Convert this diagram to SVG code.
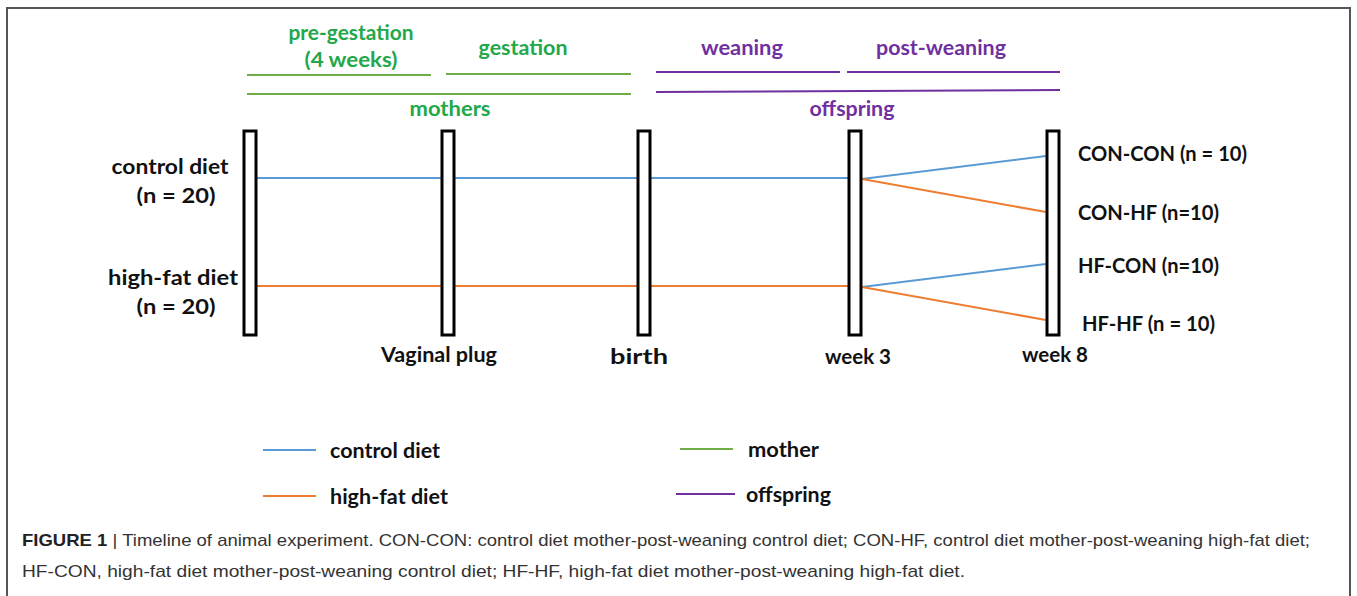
<svg xmlns="http://www.w3.org/2000/svg" width="1357" height="596" viewBox="0 0 1357 596">
<defs>
<style>
.t{font-family:Lato,"Liberation Sans",sans-serif;font-weight:bold;font-size:20px;fill:#111}
.g{fill:#22a84b}
.p{fill:#7030a0}
.bar{fill:#fff;stroke:#000;stroke-width:3}
.bl{stroke:#5b9bd5;stroke-width:2;fill:none}
.or{stroke:#ed7d31;stroke-width:2;fill:none}
.gl{stroke:#70ad47;stroke-width:2;fill:none}
.pl{stroke:#7030a0;stroke-width:2;fill:none}
.cap{font-family:"Liberation Sans",Arial,sans-serif;font-size:17px;fill:#333}
</style>
</defs>
<rect x="7" y="8" width="1343" height="610" fill="#fff" stroke="#555" stroke-width="2"/>

<g id="phases">
<text class="t g" x="351" y="40" text-anchor="middle" textLength="125" lengthAdjust="spacingAndGlyphs">pre-gestation</text>
<text class="t g" x="351" y="67" text-anchor="middle" textLength="93" lengthAdjust="spacingAndGlyphs">(4 weeks)</text>
<text class="t g" x="523" y="55" text-anchor="middle" textLength="89" lengthAdjust="spacingAndGlyphs">gestation</text>
<line class="gl" x1="247" y1="75" x2="431" y2="75"/>
<line class="gl" x1="446" y1="74" x2="631" y2="74"/>
<line class="gl" x1="247" y1="94" x2="631" y2="94"/>
<text class="t g" x="450" y="116" text-anchor="middle" textLength="81" lengthAdjust="spacingAndGlyphs">mothers</text>
<text class="t p" x="742" y="55" text-anchor="middle" textLength="82" lengthAdjust="spacingAndGlyphs">weaning</text>
<text class="t p" x="941" y="55" text-anchor="middle" textLength="130" lengthAdjust="spacingAndGlyphs">post-weaning</text>
<line class="pl" x1="656" y1="72" x2="840" y2="72"/>
<line class="pl" x1="847" y1="72" x2="1060" y2="72"/>
<line class="pl" x1="656" y1="92" x2="1060" y2="90"/>
<text class="t p" x="852" y="116" text-anchor="middle" textLength="85" lengthAdjust="spacingAndGlyphs">offspring</text>
</g>

<g id="connectors">
<line class="bl" x1="257" y1="178" x2="848" y2="178"/>
<line class="or" x1="257" y1="286" x2="848" y2="286"/>
<line class="bl" x1="862" y1="179" x2="1046" y2="156"/>
<line class="or" x1="862" y1="179" x2="1046" y2="212"/>
<line class="bl" x1="862" y1="287" x2="1046" y2="264"/>
<line class="or" x1="862" y1="287" x2="1046" y2="320"/>
</g>

<g id="start">
<rect class="bar" x="244" y="131" width="12" height="204"/>
<text class="t" x="170" y="174" text-anchor="middle" textLength="117" lengthAdjust="spacingAndGlyphs">control diet</text>
<text class="t" x="176" y="203" text-anchor="middle" textLength="79" lengthAdjust="spacingAndGlyphs">(n = 20)</text>
<text class="t" x="173" y="285" text-anchor="middle" textLength="130" lengthAdjust="spacingAndGlyphs">high-fat diet</text>
<text class="t" x="176" y="314" text-anchor="middle" textLength="79" lengthAdjust="spacingAndGlyphs">(n = 20)</text>
</g>
<g id="vaginal-plug">
<rect class="bar" x="442" y="131" width="12" height="204"/>
<text class="t" x="439" y="362" text-anchor="middle" textLength="116" lengthAdjust="spacingAndGlyphs">Vaginal plug</text>
</g>
<g id="birth">
<rect class="bar" x="638" y="131" width="12" height="204"/>
<text class="t" x="639" y="364" text-anchor="middle" textLength="58" lengthAdjust="spacingAndGlyphs">birth</text>
</g>
<g id="week3">
<rect class="bar" x="849" y="131" width="12" height="204"/>
<text class="t" x="858" y="364" text-anchor="middle" textLength="66" lengthAdjust="spacingAndGlyphs">week 3</text>
</g>
<g id="week8">
<rect class="bar" x="1047" y="131" width="12" height="204"/>
<text class="t" x="1055" y="362" text-anchor="middle" textLength="66" lengthAdjust="spacingAndGlyphs">week 8</text>
<text class="t" x="1078" y="161" textLength="169" lengthAdjust="spacingAndGlyphs">CON-CON (n = 10)</text>
<text class="t" x="1078" y="220" textLength="141" lengthAdjust="spacingAndGlyphs">CON-HF (n=10)</text>
<text class="t" x="1078" y="273" textLength="141" lengthAdjust="spacingAndGlyphs">HF-CON (n=10)</text>
<text class="t" x="1082" y="331" textLength="133" lengthAdjust="spacingAndGlyphs">HF-HF (n = 10)</text>
</g>

<g id="legend">
<line class="bl" x1="263" y1="450" x2="316" y2="450"/>
<text class="t" x="330" y="458" textLength="110" lengthAdjust="spacingAndGlyphs">control diet</text>
<line class="or" x1="263" y1="496" x2="316" y2="496"/>
<text class="t" x="330" y="504" textLength="118" lengthAdjust="spacingAndGlyphs">high-fat diet</text>
<line class="gl" x1="680" y1="449" x2="733" y2="449"/>
<text class="t" x="748" y="457" textLength="71" lengthAdjust="spacingAndGlyphs">mother</text>
<line class="pl" x1="676" y1="494" x2="735" y2="494"/>
<text class="t" x="746" y="502" textLength="85" lengthAdjust="spacingAndGlyphs">offspring</text>
</g>

<g id="caption">
<text class="cap" x="22" y="546" textLength="1288" lengthAdjust="spacingAndGlyphs"><tspan font-weight="bold" fill="#222">FIGURE 1</tspan> | Timeline of animal experiment. CON-CON: control diet mother-post-weaning control diet; CON-HF, control diet mother-post-weaning high-fat diet;</text>
<text class="cap" x="22" y="577" textLength="943" lengthAdjust="spacingAndGlyphs">HF-CON, high-fat diet mother-post-weaning control diet; HF-HF, high-fat diet mother-post-weaning high-fat diet.</text>
</g>
</svg>
